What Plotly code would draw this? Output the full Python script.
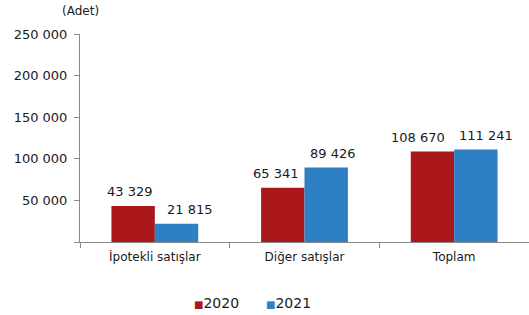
import plotly.graph_objects as go

categories = ["İpotekli satışlar", "Diğer satışlar", "Toplam"]
series_names = ["2020", "2021"]
values_2020 = [43329, 65341, 108670]
values_2021 = [21815, 89426, 111241]
label_2020 = ["43 329", "65 341", "108 670"]
label_2021 = ["21 815", "89 426", "111 241"]
y_tickvals = [0, 50000, 100000, 150000, 200000, 250000]
y_ticktext = ["", "50 000", "100 000", "150 000", "200 000", "250 000"]

RED = "#AA181C"
BLUE = "#2D80C4"
COLORS = [RED, BLUE]
FONT = "DejaVu Sans, Arial, sans-serif"
TXT = "#1a1a1a"

fig = go.Figure()
fig.add_trace(go.Bar(name=series_names[0], x=categories, y=values_2020,
                     marker=dict(color=RED, line=dict(width=0)), showlegend=False,
                     hoverinfo="skip"))
fig.add_trace(go.Bar(name=series_names[1], x=categories, y=values_2021,
                     marker=dict(color=BLUE, line=dict(width=0)), showlegend=False,
                     hoverinfo="skip"))

# value labels (slightly offset horizontally, as in the reference)
shifts_2020 = [-3, -7, -14]
shifts_2021 = [13, 7, 10]
bar_off = 21.7
for i, c in enumerate(categories):
    fig.add_annotation(x=c, y=values_2020[i], text=label_2020[i], showarrow=False,
                       xshift=-bar_off + shifts_2020[i], yshift=14,
                       font=dict(size=13, color=TXT, family=FONT))
    fig.add_annotation(x=c, y=values_2021[i], text=label_2021[i], showarrow=False,
                       xshift=bar_off + shifts_2021[i], yshift=14,
                       font=dict(size=13, color=TXT, family=FONT))

# unit label
fig.add_annotation(xref="paper", yref="paper", x=0, y=1.11, text="(Adet)",
                   showarrow=False, xanchor="center", yanchor="middle",
                   font=dict(size=12, color=TXT, family=FONT))

# compact legend
legend_x = [0.25, 0.41]
for name, col, lx in zip(series_names, COLORS, legend_x):
    fig.add_annotation(xref="paper", yref="paper", x=lx, y=-0.293,
                       text=f"<span style='color:{col};font-size:10px'>■</span>{name}",
                       showarrow=False, xanchor="left", yanchor="middle",
                       font=dict(size=14, color=TXT, family=FONT))

fig.update_layout(
    width=529, height=315,
    margin=dict(l=80, r=0, t=34, b=73),
    paper_bgcolor="white", plot_bgcolor="white",
    barmode="group", bargap=0.42, bargroupgap=0,
    font=dict(family=FONT, size=13, color=TXT),
    showlegend=False,
    xaxis=dict(showline=True, linecolor="#8a8a8a", linewidth=1, ticks="outside",
               tickson="boundaries", ticklen=5, tickcolor="#8a8a8a",
               showgrid=False, automargin=False, ticklabelstandoff=4,
               tickfont=dict(size=12, color=TXT)),
    yaxis=dict(range=[0, 250000], tickvals=y_tickvals, ticktext=y_ticktext,
               showline=True, linecolor="#8a8a8a", linewidth=1, ticks="outside",
               ticklen=5, tickcolor="#8a8a8a", showgrid=False, zeroline=False,
               automargin=False, ticklabelstandoff=4,
               tickfont=dict(size=13, color=TXT)),
)

fig.write_html(
    "out.html",
    config={"displayModeBar": False},
    post_script="document.body.style.margin='0px';document.body.style.overflow='hidden';",
)
